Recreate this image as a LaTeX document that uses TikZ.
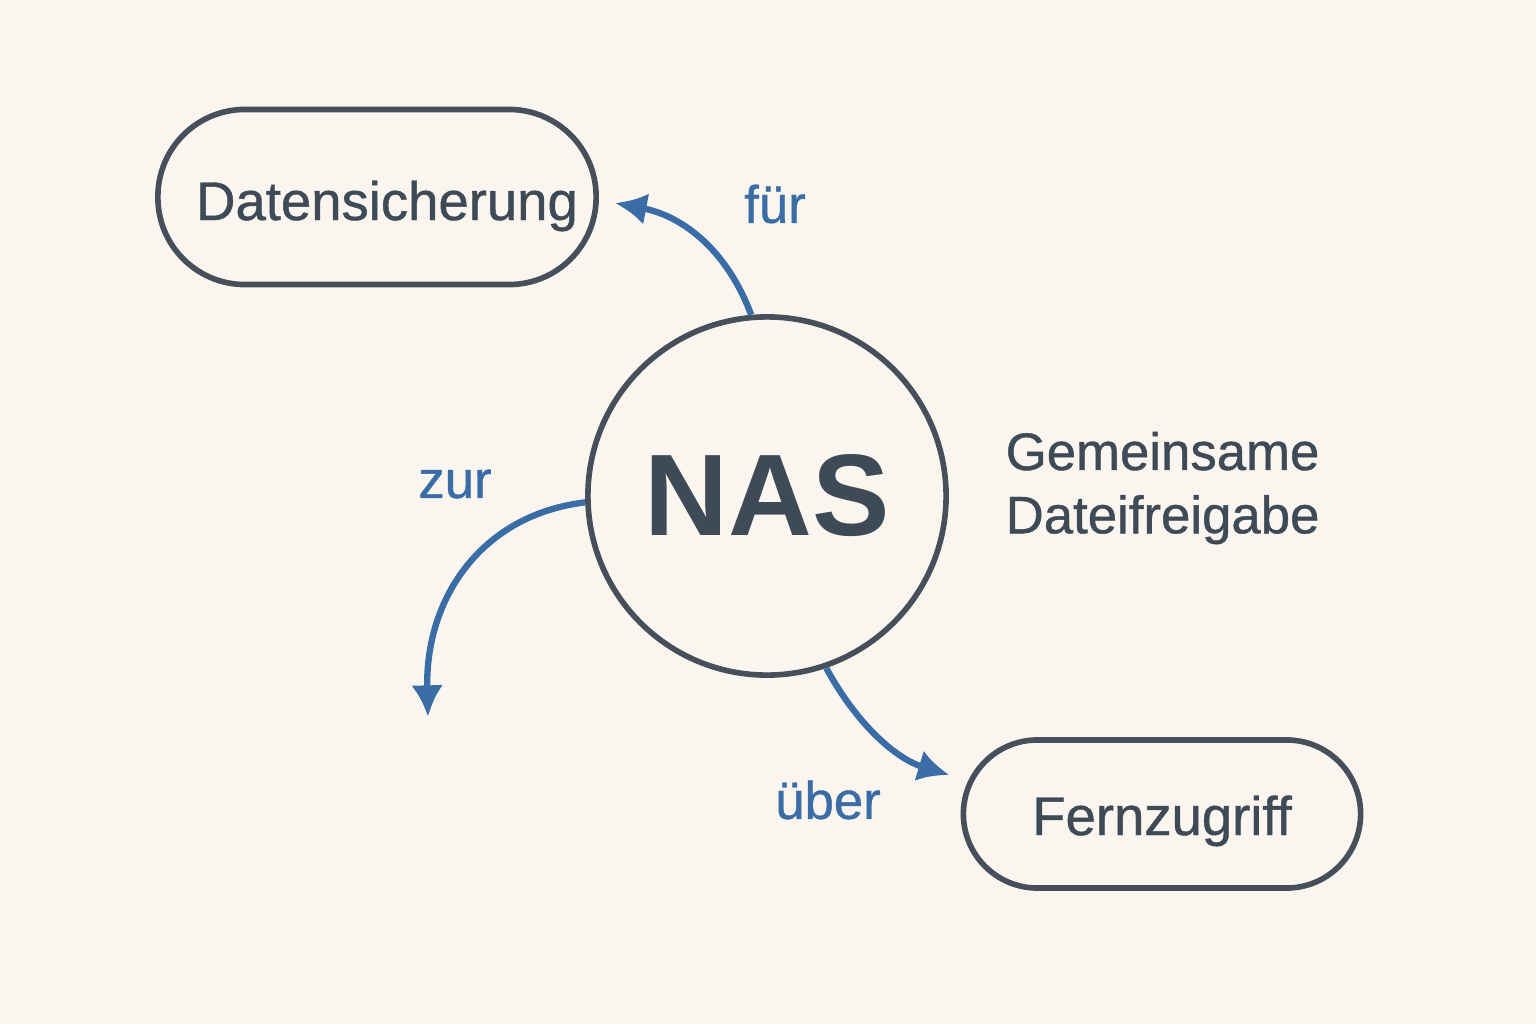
\documentclass[tikz,border=0pt]{standalone}
\usepackage{fontspec}
\setmainfont{Liberation Sans}
\newfontfamily\medfont{Liberation Sans}[FakeBold=0.8]
\usetikzlibrary{arrows.meta}
\definecolor{bg}{HTML}{FAF6EF}
\definecolor{ink}{HTML}{3E4B57}
\definecolor{edge}{HTML}{46505A}
\definecolor{accent}{HTML}{3A6DA6}
\begin{document}
\begin{tikzpicture}[x=0.01cm,y=-0.01cm,
  pill/.style={draw=edge, line width=1.6pt, rounded corners=#1, text=ink, font=\medfont\fontsize{15.5pt}{18pt}\selectfont, inner sep=0pt},
  hub/.style={draw=edge, line width=1.6pt, circle, minimum size=3.58cm, inner sep=0pt, text=ink, font=\fontsize{33pt}{38pt}\selectfont\bfseries},
  lbl/.style={text=accent, font=\medfont\fontsize{15pt}{18pt}\selectfont, inner sep=0pt},
  note/.style={text=ink, font=\medfont\fontsize{15pt}{18pt}\selectfont, align=left, inner sep=0pt},
  link/.style={draw=accent, line width=1.8pt, -{Latex[length=9pt,width=9pt]}}]
\useasboundingbox[fill=bg] (0,0) rectangle (1536,1024);
\node[pill=0.87cm, minimum width=4.38cm, minimum height=1.75cm, text height=0.6cm, text depth=0.14cm] (ds) at (377,197) {\hspace*{0.2cm}Datensicherung};
\node[pill=0.74cm, minimum width=3.97cm, minimum height=1.48cm, text height=0.56cm, text depth=0.14cm] (fz) at (1162,814) {Fernzugriff};
\node[hub] (nas) at (767,496) {NAS};
\node[note, anchor=west] (gd) at (1005,488) {Gemeinsame\\Dateifreigabe};
\node[lbl] (lf) at (775,204) {für};
\node[lbl] (lz) at (455,484) {zur};
\node[lbl] (lu) at (828,800) {über};
\coordinate (zend) at (428,717);
\draw[link] (nas.95) .. controls (725,245) and (678,215) .. ([shift={(16,6)}]ds.east);
\draw[link] (nas.182) .. controls (480,515) and (425,600) .. (zend);
\draw[link] (nas.-71) .. controls (860,730) and (900,760) .. ([shift={(-11,-39)}]fz.west);
\end{tikzpicture}
\end{document}
